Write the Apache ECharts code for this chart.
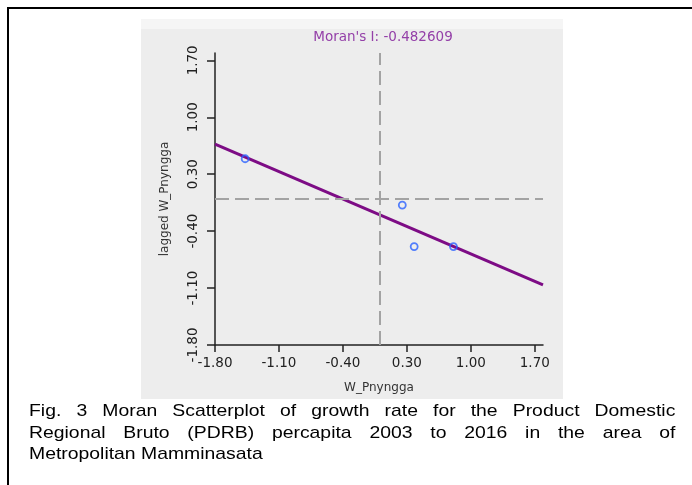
<!DOCTYPE html>
<html>
<head>
<meta charset="utf-8">
<script src="https://cdn.jsdelivr.net/npm/echarts@6/dist/echarts.min.js"></script>
<style>
  html, body { margin: 0; padding: 0; background: #fff; }
  #frame { position: absolute; left: 7px; top: 7px; width: 720px; height: 520px;
           border-left: 2px solid #000; border-top: 2px solid #000; }
  #chart { position: absolute; left: 0; top: 0; width: 692px; height: 485px; }
  #caption { position: absolute; left: 29px; top: 400px; width: 567px;
             font-family: "Liberation Sans", Arial, sans-serif; font-size: 17px;
             line-height: 21.5px; color: #000;
             transform: scaleX(1.14); transform-origin: 0 0; }
  #caption .j { text-align: justify; text-align-last: justify; }
</style>
</head>
<body>
<div id="frame"></div>
<div id="chart"></div>
<div id="caption"><div class="j">Fig. 3 Moran Scatterplot of growth rate for the Product Domestic</div><div class="j">Regional Bruto (PDRB) percapita 2003 to 2016 in the area of</div><div>Metropolitan Mamminasata</div></div>
<script>
// ---- data ----
const pointX = [-1.47, 0.25, 0.38, 0.81];          // W_Pnyngga (standardised)
const pointY = [0.49, -0.08, -0.59, -0.59];        // lagged W_Pnyngga
const fitLineX = [-1.8, 1.79];                      // regression line ends
const fitLineY = [0.67, -1.06];
const meanX = 0, meanY = 0;                         // quadrant dividers
const axisMin = -1.8, axisMax = 1.79, axisStep = 0.7;
const moransI = '-0.482609';
const xName = 'W_Pnyngga';
const yName = 'lagged W_Pnyngga';

const points = pointX.map((x, i) => [x, pointY[i]]);
const fitLine = fitLineX.map((x, i) => [x, fitLineY[i]]);

const chart = echarts.init(document.getElementById('chart'), null, { renderer: 'canvas' });
const labelFont = { fontFamily: 'DejaVu Sans', fontSize: 13.5, color: '#222' };

chart.setOption({
  animation: false,
  backgroundColor: 'transparent',
  title: {
    text: "Moran's I: " + moransI,
    left: 378, top: 25, textAlign: 'center',
    textStyle: { fontFamily: 'DejaVu Sans', fontSize: 13.5, fontWeight: 'normal', color: '#9440a8' }
  },
  graphic: [
    { type: 'rect', z: -10, shape: { x: 141, y: 19, width: 422, height: 380 }, style: { fill: '#ededed' } },
    { type: 'rect', z: -9, shape: { x: 141, y: 19, width: 422, height: 10 }, style: { fill: '#f5f5f5' } }
  ],
  grid: { left: 215, right: 149, top: 53, bottom: 140, containLabel: false },
  xAxis: {
    type: 'value', min: axisMin, max: axisMax, interval: axisStep,
    name: xName, nameLocation: 'middle', nameGap: 37,
    nameTextStyle: { fontFamily: 'DejaVu Sans', fontSize: 12, color: '#333' },
    axisLine: { onZero: false, lineStyle: { color: '#222', width: 1.5 } },
    axisTick: { show: true, length: 7, lineStyle: { color: '#222', width: 1.5 } },
    axisLabel: Object.assign({ margin: 11, showMaxLabel: false, formatter: v => v.toFixed(2) }, labelFont),
    splitLine: { show: false }
  },
  yAxis: {
    type: 'value', min: axisMin, max: axisMax, interval: axisStep,
    name: yName, nameLocation: 'middle', nameGap: 44, nameRotate: 90,
    nameTextStyle: { fontFamily: 'DejaVu Sans', fontSize: 12, color: '#333' },
    axisLine: { onZero: false, lineStyle: { color: '#222', width: 1.5 } },
    axisTick: { show: true, length: 8, lineStyle: { color: '#222', width: 1.5 } },
    axisLabel: Object.assign({ margin: 15, rotate: 90, showMaxLabel: false, formatter: v => v.toFixed(2) }, labelFont),
    splitLine: { show: false }
  },
  series: [
    {
      type: 'line', data: fitLine, symbol: 'none', z: 3,
      lineStyle: { color: '#7d0c85', width: 3 },
      markLine: {
        silent: true, symbol: 'none', label: { show: false },
        lineStyle: { color: '#a3a3a3', width: 2, type: [14, 6] },
        data: [{ xAxis: meanX }, { yAxis: meanY }]
      }
    },
    {
      type: 'scatter', data: points, symbol: 'circle', symbolSize: 7, z: 4,
      itemStyle: { color: 'rgba(0,0,0,0)', borderColor: '#2a62ff', borderWidth: 1.8 }
    }
  ]
});
</script>
</body>
</html>
